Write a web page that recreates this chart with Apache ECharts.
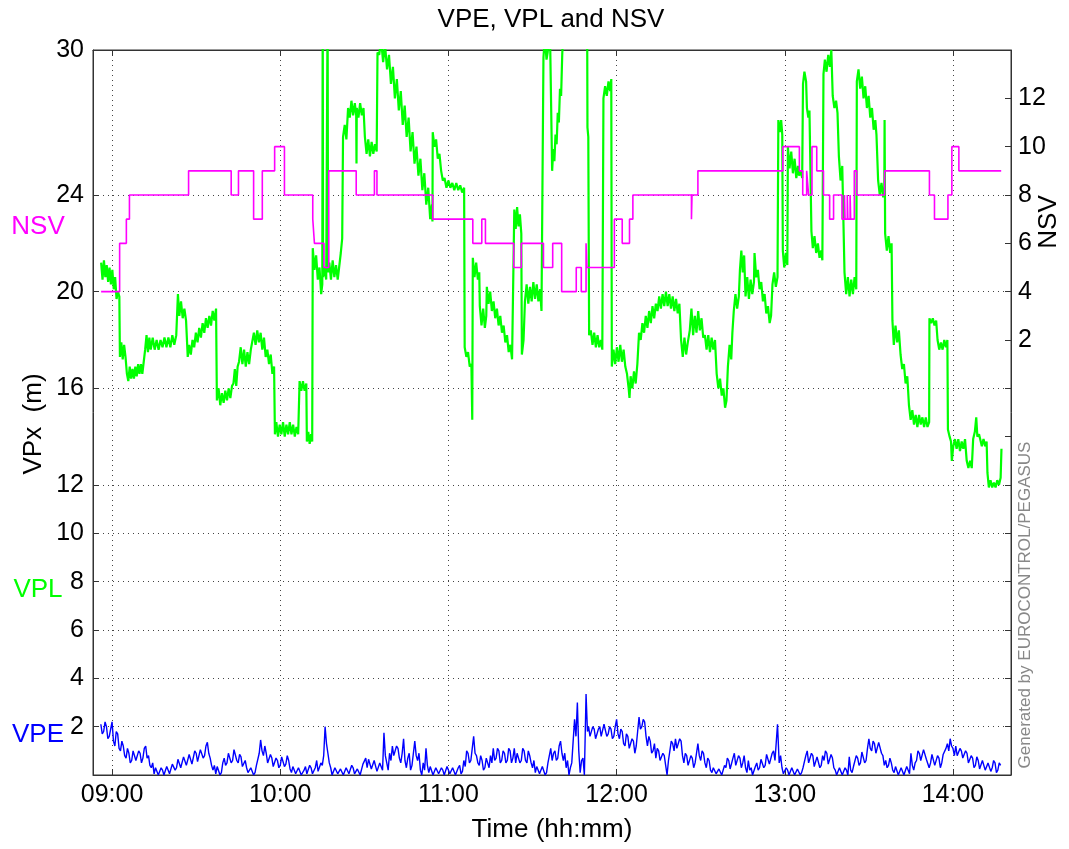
<!DOCTYPE html>
<html>
<head>
<meta charset="utf-8">
<title>VPE, VPL and NSV</title>
<script src="https://cdn.jsdelivr.net/npm/echarts@6/dist/echarts.min.js"></script>
<style>
  html, body { margin: 0; padding: 0; background: #fff; }
  #chart { width: 1069px; height: 849px; }
</style>
</head>
<body>
<div id="chart"></div>
<script>
// time is minutes after 09:00
const timeTicks = [0, 60, 120, 180, 240, 300];
const vpxTicks = [2, 4, 6, 8, 10, 12, 16, 20, 24, 30];
const nsvLabels = [2, 4, 6, 8, 10, 12];

// VPL (m), [minute, value]
const vplData = [
  [-3.9,21.2],[-3.4,20.5],[-2.9,21.3],[-2.4,20.6],[-1.9,21.1],[-1.4,20.4],[-0.9,21.0],[-0.4,20.3],[0.1,20.9],[0.6,20.1],
  [1.1,20.6],[1.6,19.7],[2.1,20.0],[2.6,19.8],[2.8,17.3],[3.3,17.9],[3.8,17.2],[4.3,17.8],[4.8,17.3],
  [5.3,16.6],[5.8,16.3],[6.3,16.9],[6.8,16.4],[7.3,16.8],[7.8,16.4],[8.3,16.9],[8.8,16.5],[9.3,17.0],[9.8,16.6],
  [10.3,17.0],[10.8,16.6],[11.3,17.1],[11.8,17.6],[12.3,18.2],[12.8,17.5],[13.3,18.1],
  [13.8,17.6],[14.5,18.1],[15.2,17.6],[15.9,18.0],[16.6,17.6],[17.3,18.0],[18.0,17.7],[18.7,18.1],[19.4,17.7],
  [20.1,18.1],[20.8,17.7],[21.5,18.2],[22.2,17.8],[22.9,18.2],
  [23.5,19.9],[24.0,19.0],[24.6,19.6],[25.2,18.9],[25.8,19.3],[26.4,18.8],[27.0,17.3],[27.5,17.8],
  [28.1,17.4],[28.7,18.0],[29.3,17.7],[29.9,18.3],[30.5,17.9],[31.1,18.5],[31.7,18.1],[32.3,18.7],[32.9,18.3],
  [33.5,18.9],[34.1,18.5],[34.7,19.0],[35.3,18.6],[35.9,19.2],[36.5,18.8],[37.1,19.3],
  [37.4,15.5],[38.0,16.0],[38.6,15.3],[39.2,15.8],[39.8,15.4],[40.4,15.9],[41.0,15.5],[41.6,16.0],[42.2,15.6],[42.8,16.1],
  [43.3,16.2],[43.8,16.8],[44.3,16.1],[44.8,16.9],
  [45.3,17.1],[45.9,17.7],[46.5,17.0],[47.1,17.6],[47.7,16.9],[48.3,17.5],[48.9,17.0],[49.5,17.6],
  [50.1,17.6],[50.6,18.3],[51.2,17.8],[51.8,18.4],[52.4,17.9],[53.0,18.3],[53.6,17.6],[54.2,18.1],[54.8,17.3],[55.4,17.6],
  [56.0,17.0],[56.6,17.4],[57.2,16.6],[57.8,16.9],
  [58.1,14.1],[58.6,14.6],[59.2,14.0],[59.8,14.5],[60.4,14.1],[61.0,14.6],[61.6,14.0],[62.2,14.5],[62.8,14.1],
  [63.4,14.6],[64.0,14.1],[64.6,14.5],[65.2,14.0],[65.8,14.4],[66.4,14.1],
  [66.9,16.3],[67.5,15.9],[68.1,16.3],[68.7,15.9],[69.3,16.2],
  [69.5,13.8],[70.0,14.2],[70.5,13.7],[71.0,14.1],[71.4,13.8],
  [71.6,21.8],[72.2,20.9],[72.8,21.5],[73.4,20.5],[74.0,21.0],[74.6,19.9],[75.0,20.3],[75.15,32],[75.3,20.6],
  [75.8,21.0],[76.4,20.5],[76.9,32],[77.05,20.8],
  [77.5,21.2],[78.1,20.5],[78.7,21.3],[79.3,20.6],[79.9,21.1],[80.5,20.5],[81.0,21.0],
  [81.6,21.6],[82.1,22.2],[82.4,26.4],[83.0,26.9],[83.6,26.3],
  [84.2,27.6],[84.8,27.2],[85.4,27.9],[86.0,27.3],[86.6,27.8],[87.1,27.3],[87.2,25.3],[87.3,27.6],[87.9,27.2],
  [88.5,27.8],[89.1,27.3],[89.7,27.6],
  [90.2,26.4],[90.8,25.7],[91.4,26.3],[92.0,25.6],[92.6,26.2],[93.2,25.7],[93.8,26.1],[94.4,25.8],
  [94.7,29.9],[95.3,29.8],[96.0,30.4],[96.7,29.5],[97.4,30.2],[98.1,29.2],[98.8,29.8],[99.5,28.6],[100.2,29.3],
  [100.9,28.0],[101.6,28.8],[102.3,27.5],[103.0,28.3],[103.7,26.9],[104.4,27.7],[105.1,26.4],[105.8,27.2],
  [106.5,25.8],[107.2,26.6],[107.9,25.3],[108.6,26.0],[109.3,24.8],[110.0,25.5],[110.7,24.2],[111.4,24.9],
  [112.1,23.6],[112.8,24.3],[113.5,23.0],[114.1,23.6],[114.3,22.9],
  [114.4,26.6],[115.0,26.0],[115.6,26.3],[116.2,25.5],[116.8,25.7],[117.4,25.0],[118.0,24.6],
  [118.6,24.7],[119.3,24.3],[120.0,24.6],[120.7,24.3],[121.4,24.5],[122.1,24.2],[122.8,24.5],[123.5,24.2],
  [124.2,24.4],[124.9,24.1],[125.6,24.3],
  [125.8,17.7],[126.4,17.3],[127.0,17.5],[127.6,16.9],[128.2,17.0],[128.5,14.7],
  [128.7,21.4],[129.3,20.6],[129.9,21.2],[130.5,20.5],[131.0,20.8],
  [131.2,19.4],[131.8,18.6],[132.4,19.3],[133.0,18.5],[133.5,19.0],
  [133.7,20.2],[134.3,19.5],[134.9,20.0],[135.5,19.2],[136.1,19.6],[136.7,18.9],[137.3,19.3],[137.9,18.6],
  [138.5,19.0],[139.1,18.3],[139.7,18.6],[140.3,17.9],[140.9,18.2],[141.5,17.5],[142.1,17.8],[142.7,17.2],
  [143.5,23.4],[144.0,22.6],[144.5,23.5],[145.0,22.7],[145.5,23.2],[146.0,22.4],
  [146.2,17.4],[146.8,18.0],
  [147.3,19.6],[147.9,20.3],[148.5,19.5],[149.1,20.2],[149.7,19.6],[150.3,20.4],[150.9,19.7],[151.5,20.3],
  [152.1,19.6],[152.7,20.1],[153.2,19.2],
  [153.9,29.7],[154.4,30.5],[155.0,29.6],[155.4,29.9],[156.2,31],[157.0,25.0],[157.4,25.9],[157.8,25.4],
  [158.2,26.5],[158.6,26.1],[159.0,27.4],[159.4,27.0],[159.8,28.4],[160.2,28.1],[160.6,29.8],[161.0,31],[169.5,31],
  [169.6,26.8],[169.9,26.4],[170.2,18.2],
  [170.8,18.4],[171.4,17.8],[172.0,18.3],[172.6,17.7],[173.2,18.2],[173.8,17.7],[174.4,18.0],[174.9,17.6],
  [175.3,28.0],[175.9,28.5],[176.5,28.1],[177.1,28.7],[177.7,28.3],[178.1,28.8],
  [178.3,16.9],[178.9,17.6],[179.5,17.0],[180.1,17.7],[180.7,17.1],[181.3,17.8],[181.9,17.1],[182.5,17.6],[183.1,16.9],
  [183.7,16.6],[184.3,16.0],[184.6,15.6],[185.0,16.5],[185.6,16.0],[186.2,16.7],[186.8,16.2],[187.4,17.0],
  [188.0,18.3],[188.6,18.0],[189.2,18.7],[189.8,18.3],[190.4,19.0],[191.0,18.5],[191.6,19.2],[192.2,18.7],
  [192.8,19.4],[193.4,18.9],[194.0,19.5],
  [194.6,19.2],[195.2,19.8],[195.8,19.3],[196.4,19.9],[197.0,19.4],[197.6,20.0],[198.2,19.4],[198.8,19.9],
  [199.4,19.3],[200.0,19.8],[200.6,19.2],[201.2,19.7],[201.8,19.1],[202.4,19.5],
  [203.0,18.0],[203.6,17.3],[204.2,18.1],[204.8,17.4],[205.4,17.9],
  [206.1,18.4],[206.7,19.3],[207.3,18.2],[207.9,19.0],[208.5,18.3],[209.1,19.2],[209.7,18.4],[210.3,18.9],[210.9,18.1],
  [211.5,18.2],[212.1,17.6],[212.7,18.2],[213.3,17.5],[213.9,18.1],[214.5,17.6],[215.1,18.0],
  [215.7,16.6],[216.3,16.0],[216.9,16.4],[217.5,15.7],[218.1,16.0],[218.7,15.2],[219.2,15.5],
  [219.7,16.9],[220.3,17.8],[220.9,17.2],[221.3,18.3],
  [221.8,19.2],[222.4,19.9],[223.0,19.3],[223.6,19.8],
  [224.0,20.9],[224.5,21.7],[225.0,20.8],[225.5,21.5],
  [226.0,19.8],[226.6,20.6],[227.2,19.7],[227.8,20.5],[228.4,19.9],[229.0,20.4],[229.2,21.6],
  [229.8,20.6],[230.4,20.9],[231.0,20.1],[231.6,20.4],[232.2,19.6],[232.8,19.9],[233.4,19.1],[234.0,19.4],
  [234.6,18.7],[235.1,19.0],
  [235.6,20.3],[236.2,20.8],[236.8,20.2],[237.4,20.6],
  [237.7,27.1],[238.2,26.6],[238.7,27.1],[239.1,26.5],
  [239.3,21.7],[239.8,21.0],[240.4,21.6],[240.9,21.1],
  [241.1,26.0],[241.7,25.1],[242.3,25.8],[242.9,24.9],[243.5,25.5],[244.1,24.7],[244.7,25.2],[245.1,24.8],
  [245.7,25.0],[246.2,24.7],
  [246.5,28.6],[247.0,29.1],[247.6,28.7],
  [247.9,27.6],[248.4,27.2],[248.8,27.5],
  [249.5,22.5],[250.0,21.8],[250.6,22.3],[251.2,21.6],[251.8,22.0],[252.4,21.4],[253.0,21.7],[253.4,21.3],
  [253.8,29.0],[254.3,29.6],[254.9,29.1],[255.5,29.8],[256.1,29.3],[256.6,30.0],
  [257.1,28.1],[257.7,27.6],[258.3,27.9],[258.8,27.4],
  [259.3,25.6],[259.9,24.6],[260.5,25.2],
  [261.3,20.8],[261.9,19.9],[262.5,20.6],[263.1,19.8],[263.7,20.5],[264.3,19.9],[264.9,20.6],[265.5,20.1],
  [265.7,28.7],[266.3,29.2],[266.9,28.4],[267.5,28.9],[268.1,28.0],[268.7,28.5],[269.3,27.6],[269.9,28.1],
  [270.5,27.2],[271.1,27.6],[271.7,26.7],[272.3,27.1],[272.7,26.5],
  [273.3,24.6],[273.9,24.0],[274.5,24.5],[275.1,23.9],[275.5,24.2],[275.6,27.1],
  [275.8,22.4],[276.4,21.7],[277.0,22.3],[277.6,21.6],[278.1,22.0],
  [278.4,18.8],[278.9,17.8],[279.5,18.6],[280.1,17.9],[280.7,18.4],
  [281.3,17.4],[281.9,16.8],[282.5,17.0],[283.1,16.2],[283.7,16.5],
  [284.3,15.3],[284.9,14.7],[285.5,15.1],[286.1,14.5],[286.7,14.9],[287.3,14.4],[287.9,14.9],[288.5,14.5],
  [289.1,14.8],[289.7,14.4],[290.3,14.8],[290.9,14.4],[291.5,14.6],
  [291.6,18.9],[292.2,18.7],[292.8,18.9],[293.4,18.6],[294.0,18.8],
  [294.5,18.0],[295.1,17.6],[295.7,17.9],[296.3,17.6],[296.9,18.0],[297.5,17.7],[298.0,18.0],
  [298.2,14.3],[298.8,14.0],[299.3,13.8],[299.6,13.0],[300.1,13.6],
  [300.7,13.9],[301.3,13.5],[301.9,13.9],[302.5,13.4],[303.1,13.8],[303.7,13.5],[304.3,13.9],
  [304.9,13.0],[305.5,12.7],[306.1,13.0],[306.7,12.7],
  [307.2,13.9],[307.8,14.2],[308.3,14.8],[308.7,14.0],[309.3,14.1],
  [309.7,13.9],[310.3,13.6],[310.9,13.9],[311.5,13.6],[312.0,13.8],
  [312.3,12.5],[312.8,11.9],[313.4,12.2],[314.0,11.9],[314.6,12.1],[315.2,11.9],[315.8,12.2],[316.4,12.0],
  [317.0,12.3],[317.3,13.5]
];

// VPE (m), [minute, value]
const vpeData = [
  [-4,2.1],[-3.5,1.7],[-3,1.8],[-2.5,2.2],[-2,2.0],[-1.5,1.5],[-1,1.6],[-0.5,1.9],[0,2.2],[0.5,1.4],
  [1,1.2],[1.5,1.8],[2,1.7],[2.5,1.1],[3,1.0],[3.5,1.4],[4,1.2],[4.5,0.8],[5,0.7],[5.5,1.1],
  [6,0.9],[6.5,0.5],[7,0.6],[7.5,1.0],[8,0.95],[8.5,0.6],[9,0.55],[9.5,1.0],[10,0.9],[10.5,0.5],
  [11,0.7],[11.5,1.1],[12,1.2],[12.5,0.7],[13,0.8],[13.5,0.4],[14,0.3],[14.5,0.5],[15,0.05],[15.5,0.3],
  [16,0.25],[16.5,0.0],[17,0.0],[17.5,0.3],[18,0.2],[18.5,0.0],[19,0.05],[19.5,0.35],[20,0.3],[20.5,0.05],
  [21,0.1],[21.5,0.45],[22,0.5],[22.5,0.2],[23,0.3],[23.5,0.65],[24,0.6],[24.5,0.3],[25,0.35],[25.5,0.75],
  [26,0.7],[26.5,0.4],[27,0.4],[27.5,0.85],[28,0.8],[28.5,0.45],[29,0.5],[29.5,1.0],[30,0.9],[30.5,0.55],
  [31,0.6],[31.5,1.05],[32,1.1],[32.5,0.7],[33,0.8],[33.5,1.2],[34,1.35],[34.5,0.9],[35,0.7],[35.5,0.4],
  [36,0.2],[36.5,0.4],[37,0.05],[37.5,0.35],[38,0.3],[38.5,0.0],[39,0.1],[39.5,0.5],[40,0.7],[40.5,0.4],
  [41,0.5],[41.5,0.9],[42,0.85],[42.5,0.5],[43,0.6],[43.5,1.05],[44,1.0],[44.5,0.6],[45,0.5],[45.5,0.85],
  [46,0.75],[46.5,0.35],[47,0.4],[47.5,0.6],[48,0.3],[48.5,0.1],[49,0.05],[49.5,0.3],[50,0.35],[50.5,0.0],
  [51,0.1],[51.5,0.4],[52,0.4],[52.5,0.9],[53,1.45],[53.5,1.0],[54,0.8],[54.5,1.2],[55,0.9],[55.5,0.5],
  [56,0.5],[56.5,0.85],[57,0.7],[57.5,0.35],[58,0.3],[58.5,0.7],[59,0.6],[59.5,0.3],[60,0.4],[60.5,0.75],
  [61,0.8],[61.5,0.35],[62,0.45],[62.5,0.8],[63,0.6],[63.5,0.25],[64,0.1],[64.5,0.35],[65,0.3],[65.5,0.05],
  [66,0.0],[66.5,0.3],[67,0.25],[67.5,0.0],[68,0.05],[68.5,0.2],[69,0.35],[69.5,0.05],[70,0.1],[70.5,0.4],
  [71,0.3],[71.5,0.05],[72,0.0],[72.5,0.3],[73,0.6],[73.5,0.15],[74,0.2],[74.5,0.5],[75,0.4],[75.5,0.8],
  [76,2.0],[76.5,1.3],[77,0.9],[77.5,0.5],[78,0.3],[78.5,0.0],[79,0.05],[79.5,0.3],[80,0.3],[80.5,0.05],
  [81,0.0],[81.5,0.25],[82,0.2],[82.5,0.0],[83,0.05],[83.5,0.3],[84,0.35],[84.5,0.05],[85,0.1],[85.5,0.4],
  [86,0.3],[86.5,0.05],[87,0.0],[87.5,0.25],[88,0.2],[88.5,0.0],[89,0.05],[89.5,0.45],[90,0.4],[90.5,0.7],
  [91,0.3],[91.5,0.65],[92,0.6],[92.5,0.25],[93,0.3],[93.5,0.6],[94,0.55],[94.5,0.15],[95,0.2],[95.5,0.5],
  [96,0.45],[96.5,0.2],[97,1.75],[97.5,0.8],[98,0.5],[98.5,0.2],[99,0.9],[99.5,0.6],[100,1.2],[100.5,0.8],
  [101,0.8],[101.5,1.2],[102,1.1],[102.5,0.7],[103,0.5],[103.5,0.9],[104,1.5],[104.5,0.6],[105,0.3],[105.5,0.7],
  [106,0.9],[106.5,0.2],[107,0.4],[107.5,0.9],[108,1.4],[108.5,0.8],[109,0.6],[109.5,0.9],[110,0.2],[110.5,0.0],
  [111,0.5],[111.5,0.2],[112,1.1],[112.5,0.4],[113,0.1],[113.5,0.35],[114,0.3],[114.5,0.0],[115,0.05],[115.5,0.3],
  [116,0.35],[116.5,0.05],[117,0.0],[117.5,0.3],[118,0.2],[118.5,0.0],[119,0.05],[119.5,0.35],[120,0.3],[120.5,0.05],
  [121,0.0],[121.5,0.3],[122,0.25],[122.5,0.0],[123,0.05],[123.5,0.3],[124,0.4],[124.5,0.05],[125,0.15],[125.5,0.6],
  [126,0.35],[126.5,1.0],[127,0.9],[127.5,0.5],[128,0.6],[128.5,1.1],[129,1.6],[129.5,0.9],[130,0.8],[130.5,0.5],
  [131,0.4],[131.5,0.8],[132,0.6],[132.5,0.2],[133,0.3],[133.5,0.7],[134,0.5],[134.5,0.3],[135,0.8],[135.5,0.5],
  [136,1.1],[136.5,0.6],[137,0.7],[137.5,1.1],[138,1.0],[138.5,0.5],[139,0.6],[139.5,1.0],[140,0.9],[140.5,0.5],
  [141,0.6],[141.5,1.1],[142,1.0],[142.5,0.5],[143,0.7],[143.5,1.1],[144,0.5],[144.5,0.9],[145,0.9],[145.5,0.5],
  [146,0.6],[146.5,1.1],[147,1.0],[147.5,0.6],[148,0.5],[148.5,1.0],[149,0.8],[149.5,0.5],[150,0.3],[150.5,0.6],
  [151,0.1],[151.5,0.35],[152,0.4],[152.5,0.05],[153,0.0],[153.5,0.35],[154,0.3],[154.5,0.0],[155,0.1],[155.5,0.5],
  [156,0.8],[156.5,1.1],[157,0.6],[157.5,0.9],[158,1.0],[158.5,0.6],[159,0.7],[159.5,1.2],[160,1.4],[160.5,0.9],
  [161,0.6],[161.5,0.9],[162,0.3],[162.5,0.6],[163,0.0],[163.5,0.3],[164,0.5],[164.5,1.4],[165,2.3],[165.5,1.6],
  [166,3.0],[166.5,1.0],[167,0.1],[167.5,0.6],[168,0.7],[168.5,0.0],[169.1,3.35],[169.6,1.8],
  [170,2.0],[170.5,1.6],[171,1.6],[171.5,2.0],[172,1.9],[172.5,1.5],[173,1.5],[173.5,1.9],[174,2.0],[174.5,1.6],
  [175,1.6],[175.5,2.1],[176,2.1],[176.5,1.6],[177,1.7],[177.5,2.0],[178,1.9],[178.5,1.5],[179,1.6],[179.5,2.0],
  [180,2.3],[180.5,1.7],[181,1.5],[181.5,1.9],[182,1.8],[182.5,1.3],[183,1.2],[183.5,1.7],[184,1.6],[184.5,1.1],
  [185,1.1],[185.5,1.5],[186,1.4],[186.5,0.9],[187,1.2],[187.5,1.8],[188,2.4],[188.5,1.9],[189,2.0],[189.5,2.3],
  [190,2.2],[190.5,1.6],[191,1.2],[191.5,1.6],[192,1.4],[192.5,0.9],[193,1.0],[193.5,1.3],[194,0.7],[194.5,1.1],
  [195,1.0],[195.5,0.6],[196,0.6],[196.5,0.9],[197,0.8],[197.5,0.4],[198,0.0],[198.5,0.6],[199,1.0],[199.5,1.4],
  [200,1.3],[200.5,1.0],[201,1.5],[201.5,1.1],[202,1.1],[202.5,1.5],[203,1.4],[203.5,0.8],[204,0.5],[204.5,0.9],
  [205,0.8],[205.5,0.4],[206,0.4],[206.5,0.8],[207,0.7],[207.5,0.3],[208,0.5],[208.5,0.9],[209,1.3],[209.5,0.8],
  [210,0.6],[210.5,1.0],[211,0.9],[211.5,0.5],[212,0.3],[212.5,0.7],[213,0.6],[213.5,0.2],[214,0.1],[214.5,0.3],
  [215,0.3],[215.5,0.05],[216,0.0],[216.5,0.25],[217,0.2],[217.5,0.0],[218,0.05],[218.5,0.4],[219,0.3],[219.5,0.7],
  [220,0.6],[220.5,0.25],[221,0.3],[221.5,0.7],[222,0.9],[222.5,0.4],[223,0.4],[223.5,0.8],[224,0.7],[224.5,0.3],
  [225,0.5],[225.5,0.8],[226,0.3],[226.5,0.1],[227,0.6],[227.5,0.2],[228,0.3],[228.5,0.0],[229,0.05],[229.5,0.35],
  [230,0.5],[230.5,0.2],[231,0.3],[231.5,0.65],[232,0.7],[232.5,0.3],[233,0.4],[233.5,0.85],[234,0.8],[234.5,0.45],
  [235,0.5],[235.5,0.9],[236,1.0],[236.5,0.6],[237,0.6],[237.4,2.1],[238,0.5],[238.5,0.8],[239,0.3],[239.5,0.05],
  [240,0.0],[240.5,0.3],[241,0.2],[241.5,0.0],[242,0.05],[242.5,0.3],[243,0.3],[243.5,0.0],[244,0.0],[244.5,0.25],
  [245,0.2],[245.5,0.0],[246,0.1],[246.5,0.3],[247,0.35],[247.5,0.8],[248,1.0],[248.5,0.5],[249,0.5],[249.5,0.9],
  [250,0.8],[250.5,0.35],[251,0.3],[251.5,0.75],[252,0.7],[252.5,0.3],[253,0.4],[253.5,0.8],[254,0.6],[254.5,1.0],
  [255,0.9],[255.5,0.45],[256,0.5],[256.5,0.85],[257,0.7],[257.5,0.3],[258,0.2],[258.5,0.0],[259,0.0],[259.5,0.3],
  [260,0.3],[260.5,0.0],[261,0.05],[261.5,0.3],[262,0.2],[262.5,0.0],[263,0.75],[263.5,0.2],[264,0.1],[264.5,0.35],
  [265,0.3],[265.5,0.8],[266,0.7],[266.5,0.4],[267,0.5],[267.5,0.95],[268,0.9],[268.5,0.5],[269,0.6],[269.5,1.1],
  [270,1.5],[270.5,1.1],[271,1.0],[271.5,1.4],[272,1.3],[272.5,0.9],[273,0.9],[273.5,1.35],[274,1.4],[274.5,0.9],
  [275,0.8],[275.5,0.4],[276,0.6],[276.5,0.3],[277,0.4],[277.5,0.7],[278,0.5],[278.5,0.2],[279,0.1],[279.5,0.35],
  [280,0.3],[280.5,0.0],[281,0.0],[281.5,0.3],[282,0.25],[282.5,0.0],[283,0.05],[283.5,0.35],[284,0.3],[284.5,0.05],
  [285,0.9],[285.5,0.4],[286,0.2],[286.5,0.5],[287,0.6],[287.5,1.0],[288,0.9],[288.5,0.6],[289,0.6],[289.5,1.05],
  [290,1.0],[290.5,0.65],[291,0.7],[291.5,0.3],[292,0.5],[292.5,0.85],[293,0.8],[293.5,0.4],[294,0.4],[294.5,0.8],
  [295,0.7],[295.5,0.3],[296,0.5],[296.5,0.85],[297,0.8],[297.5,1.1],[298,1.3],[298.5,1.0],[299,1.5],[299.5,1.2],
  [300,1.1],[300.5,0.8],[301,1.2],[301.5,0.8],[302,0.8],[302.5,1.1],[303,1.0],[303.5,0.7],[304,0.7],[304.5,1.0],
  [305,0.9],[305.5,0.5],[306,0.5],[306.5,0.8],[307,0.7],[307.5,0.3],[308,0.4],[308.5,0.75],[309,0.6],[309.5,0.25],
  [310,0.3],[310.5,0.6],[311,0.55],[311.5,0.2],[312,0.2],[312.5,0.5],[313,0.5],[313.5,0.15],[314,0.3],[314.5,0.6],
  [315,0.5],[315.5,0.1],[316,0.2],[316.5,0.5],[317,0.4]
];

// NSV, [minute, satellites] - held until next change
const nsvData = [
  [-3.9,4],[2.7,6],[5.1,7],[6.2,8],[27.3,9],[42.5,8],[45.1,9],[50.5,7],[53.6,9],[58.0,10],[61.5,8],
  [71.6,7],[72.2,6],[75.6,5],[77.3,9],[87.1,8],[93.6,9],[94.5,8],[114.4,7],[128.7,6],[131.9,7],[133.2,6],
  [143.3,5],[146.0,6],[153.9,5],[157.2,6],[160.4,4],[165.6,5],[167.4,4],[169.1,6],[169.4,5],[179.2,7],
  [182.0,6],[184.6,7],[185.8,8],[206.7,7],[206.9,8],[209.0,9],[239.3,10],[245.2,9],[246.4,8],[247.8,9],
  [248.5,8],[249.7,10],[251.4,9],[253.8,8],[256.0,7],[257.4,8],[260.4,7],[261.3,8],[261.5,7],[262.3,8],
  [262.5,7],[263.3,8],[263.5,7],[264.8,9],[265.7,8],[275.6,9],[291.6,8],[293.4,7],[298.2,8],[299.6,10],
  [302.1,9],[317.2,9]
];

const fontFamily = '"Liberation Sans", Arial, sans-serif';
const gridLine = { show: true, lineStyle: { color: '#444', width: 1, type: [1, 4] } };

function toClock(m) {
  const h = 9 + Math.floor(m / 60);
  const mm = Math.round(m % 60);
  return (h < 10 ? '0' : '') + h + ':' + (mm < 10 ? '0' : '') + mm;
}

function textItem(text, x, y, color, size, rotation) {
  return {
    type: 'text',
    x: x,
    y: y,
    rotation: rotation || 0,
    style: {
      text: text,
      fill: color,
      font: 'normal ' + size + 'px ' + fontFamily,
      align: 'center',
      verticalAlign: 'middle',
      textAlign: 'center',
      textVerticalAlign: 'middle'
    }
  };
}

const chartInstance = echarts.init(document.getElementById('chart'), null, { renderer: 'canvas' });

const option = {
  animation: false,
  backgroundColor: '#fff',
  grid: {
    left: 93,
    right: 58,
    top: 50,
    bottom: 74,
    show: true,
    borderColor: '#333',
    borderWidth: 1,
    outerBoundsMode: 'none'
  },
  xAxis: [
    {
      type: 'value',
      position: 'bottom',
      min: -6.8,
      max: 320.7,
      axisLine: { show: true, onZero: false, lineStyle: { color: '#333', width: 1 } },
      axisTick: { show: true, inside: true, length: 6, customValues: timeTicks, lineStyle: { color: '#333' } },
      axisLabel: {
        customValues: timeTicks,
        formatter: toClock,
        color: '#000',
        fontSize: 25,
        fontFamily: fontFamily,
        margin: 8
      },
      splitLine: gridLine
    },
    {
      type: 'value',
      position: 'top',
      min: -6.8,
      max: 320.7,
      axisLine: { show: true, onZero: false, lineStyle: { color: '#333', width: 1 } },
      axisTick: { show: true, inside: true, length: 6, customValues: timeTicks, lineStyle: { color: '#333' } },
      axisLabel: { show: false },
      splitLine: { show: false }
    }
  ],
  yAxis: [
    {
      type: 'value',
      position: 'left',
      min: 0,
      max: 30,
      axisLine: { show: true, onZero: false, lineStyle: { color: '#333', width: 1 } },
      axisTick: { show: true, inside: true, length: 6, customValues: vpxTicks, lineStyle: { color: '#333' } },
      axisLabel: {
        customValues: vpxTicks,
        color: '#000',
        fontSize: 25,
        fontFamily: fontFamily,
        margin: 9
      },
      splitLine: gridLine
    },
    {
      type: 'value',
      position: 'right',
      min: -16,
      max: 14,
      interval: 2,
      axisLine: { show: true, onZero: false, lineStyle: { color: '#333', width: 1 } },
      axisTick: { show: true, inside: true, length: 6, lineStyle: { color: '#333' } },
      axisLabel: {
        color: '#000',
        fontSize: 25,
        fontFamily: fontFamily,
        margin: 7,
        formatter: function (v) {
          return nsvLabels.indexOf(v) >= 0 ? String(v) : '';
        }
      },
      splitLine: { show: false }
    }
  ],
  series: [
    {
      name: 'VPE',
      type: 'line',
      xAxisIndex: 0,
      yAxisIndex: 0,
      data: vpeData,
      showSymbol: false,
      clip: true,
      lineStyle: { color: '#0000ff', width: 1.4 },
      itemStyle: { color: '#0000ff' }
    },
    {
      name: 'VPL',
      type: 'line',
      xAxisIndex: 0,
      yAxisIndex: 0,
      data: vplData,
      showSymbol: false,
      clip: true,
      lineStyle: { color: '#00ff00', width: 2.2 },
      itemStyle: { color: '#00ff00' }
    },
    {
      name: 'NSV',
      type: 'line',
      xAxisIndex: 0,
      yAxisIndex: 1,
      data: nsvData,
      step: 'end',
      showSymbol: false,
      clip: true,
      lineStyle: { color: '#ff00ff', width: 1.6 },
      itemStyle: { color: '#ff00ff' }
    }
  ],
  graphic: [
    textItem('VPE, VPL and NSV', 551, 20, '#000', 26),
    textItem('Time (hh:mm)', 552, 830, '#000', 26),
    textItem('VPx  (m)', 34, 424, '#000', 26, Math.PI / 2),
    textItem('NSV', 1049, 222, '#000', 26, Math.PI / 2),
    textItem('Generated by EUROCONTROL/PEGASUS', 1025, 605, '#888', 17, Math.PI / 2),
    textItem('NSV', 38, 227, '#ff00ff', 26),
    textItem('VPL', 38, 590, '#00ff00', 26),
    textItem('VPE', 38, 735, '#0000ff', 26)
  ]
};

chartInstance.setOption(option);
</script>
</body>
</html>
